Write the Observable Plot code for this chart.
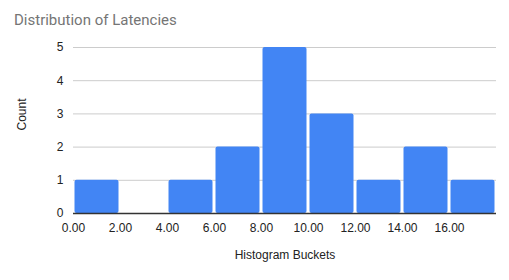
<!DOCTYPE html>
<html>
<head>
<meta charset="utf-8">
<script src="https://cdn.jsdelivr.net/npm/d3@7"></script>
<script src="https://cdn.jsdelivr.net/npm/@observablehq/plot@0.6"></script>
<style>
  html, body { margin: 0; padding: 0; background: #fff; }
  #wrap { width: 509px; height: 280px; overflow: hidden; }
  #title { height: 32px; box-sizing: border-box; padding: 13px 0 0 14px; font: 15px/15px Roboto, sans-serif; color: #757575; }
  svg { display: block; }
</style>
</head>
<body>
<div id="wrap">
  <div id="title">Distribution of Latencies</div>
  <div id="chart"></div>
</div>
<script>
const binStart = [0, 2, 4, 6, 8, 10, 12, 14, 16];
const binEnd   = [2, 4, 6, 8, 10, 12, 14, 16, 18];
const counts   = [1, 0, 1, 2, 5, 3, 1, 2, 1];
const xTicks = [0, 2, 4, 6, 8, 10, 12, 14, 16];
const yTicks = [0, 1, 2, 3, 4, 5];
const xTitle = "Histogram Buckets";
const yTitle = "Count";

const data = binStart.map((s, i) => ({x1: s, x2: binEnd[i], y: counts[i]}));

const chart = Plot.plot({
  width: 509,
  height: 248,
  marginTop: 15,
  marginBottom: 67,
  marginLeft: 73,
  marginRight: 13,
  style: {fontFamily: "'Liberation Sans', Arial, sans-serif", fontSize: "12px", color: "#222", background: "#fff"},
  x: {domain: [0, 18]},
  y: {domain: [0, 5]},
  marks: [
    Plot.gridY(yTicks.filter(d => d > 0), {stroke: "#ccc", strokeOpacity: 1}),
    Plot.rectY(data.filter(d => d.y > 0), {x1: "x1", x2: "x2", y: "y", fill: "#4285F4", insetLeft: 1.5, insetRight: 1.5, rx: 2}),
    Plot.ruleY([0], {stroke: "#333", strokeWidth: 1.5}),
    Plot.axisX(xTicks, {tickSize: 0, tickPadding: 10, tickFormat: d3.format(".2f"), label: null, fill: "#222"}),
    Plot.axisY(yTicks, {tickSize: 0, tickPadding: 10, tickFormat: d3.format("d"), label: null, fill: "#222"}),
    Plot.text([xTitle], {frameAnchor: "bottom", dy: 45, text: d => d, fill: "#222", fontSize: 12}),
    Plot.text([yTitle], {frameAnchor: "left", dx: -51, rotate: -90, text: d => d, fill: "#222", fontSize: 12})
  ]
});
document.getElementById("chart").appendChild(chart);
</script>
</body>
</html>
